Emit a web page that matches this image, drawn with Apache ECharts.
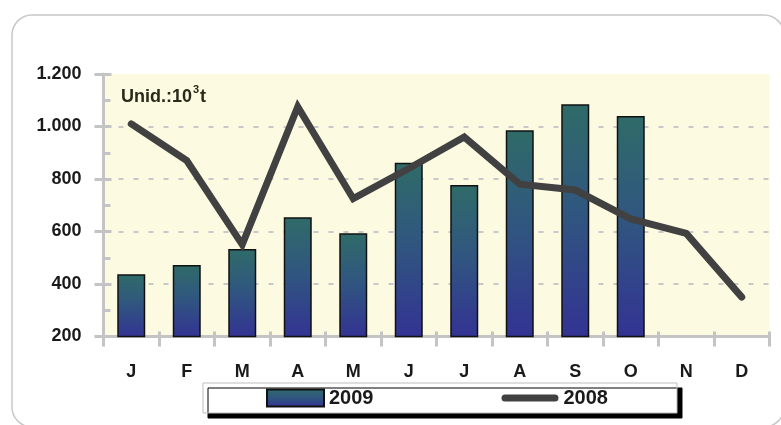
<!DOCTYPE html>
<html>
<head>
<meta charset="utf-8">
<script src="https://cdn.jsdelivr.net/npm/echarts@6/dist/echarts.min.js"></script>
<style>
html,body{margin:0;padding:0;background:#fff;}
#c{width:781px;height:425px;}
</style>
</head>
<body>
<div id="c"></div>
<script>
var months = ['J','F','M','A','M','J','J','A','S','O','N','D'];
var values2009 = [437, 472, 533, 654, 593, 862, 777, 986, 1085, 1040, null, null];
var values2008 = [1010, 870, 550, 1075, 725, 840, 960, 780, 758, 648, 593, 350];
var yTicks = [200, 400, 600, 800, 1000, 1200];

var chart = echarts.init(document.getElementById('c'));
var FONT = '"Liberation Sans", Arial, sans-serif';
var axisGray = '#c4c4c4';

function fmt(v){
  var s = String(v);
  return s.length > 3 ? s.slice(0, s.length-3) + '.' + s.slice(-3) : s;
}

var pillIcon = 'path://M0,0L0.01,0L0,0.01Z M57,17L56.99,17L57,16.99Z M3.5,5L53.5,5A3.5,3.5 0 0 1 53.5,12L3.5,12A3.5,3.5 0 0 1 3.5,5Z';

var option = {
  animation: false,
  graphic: [
    {type:'rect', left: 9.5, top: 12.5, shape:{width: 772, height: 412, r: 20},
     style:{fill:'none', stroke:'#c8c8c8', lineWidth:1.5}, z: 0},
    {type:'text', left: 121, top: 84, z: 100,
     style:{
       text: '{a|Unid.:10}{s|3}{a|t}',
       rich:{
         a:{fontFamily: FONT, fontWeight:'bold', fontSize:18, fill:'#2a2a1a', verticalAlign:'bottom', lineHeight:22},
         s:{fontFamily: FONT, fontWeight:'bold', fontSize:11, fill:'#2a2a1a', verticalAlign:'top', lineHeight:22, padding:[0,1,10,1]}
       }
     }}
  ],
  grid: {left: 103.5, right: 11.5, top: 74, bottom: 88.5, show: true, backgroundColor: '#fdfae2', borderWidth: 0},
  legend: {
    left: 203, top: 383,
    padding: [5, 69, 5, 63],
    itemGap: 128,
    itemWidth: 57, itemHeight: 17,
    backgroundColor: '#fff',
    borderColor: '#bdbdbd', borderWidth: 1,
    shadowColor: '#000', shadowBlur: 0, shadowOffsetX: 5, shadowOffsetY: 5,
    textStyle: {fontFamily: FONT, fontWeight:'bold', fontSize: 20, color:'#1a1a1a'},
    data: [
      {name:'2009', icon:'rect'},
      {name:'2008', icon: pillIcon, itemStyle:{color:'#414141', borderWidth:0}}
    ]
  },
  xAxis: [
    {type:'category', data: months, gridIndex:0,
     axisLine:{show:true, lineStyle:{color:axisGray, width:3}},
     axisTick:{show:true, alignWithLabel:false, length:10, lineStyle:{color:axisGray, width:3}},
     axisLabel:{margin: 27, fontFamily: FONT, fontWeight:'bold', fontSize:18, color:'#1a1a1a'}},
    {type:'category', data: months, position:'bottom', gridIndex:0,
     axisLine:{show:false},
     axisTick:{show:true, inside:true, length:5, lineStyle:{color:axisGray, width:3}},
     axisLabel:{show:false}}
  ],
  yAxis: [
    {type:'value', min: yTicks[0], max: yTicks[yTicks.length-1], interval: 200,
     axisLine:{show:true, lineStyle:{color:axisGray, width:3}},
     axisTick:{show:true, length:9, lineStyle:{color:axisGray, width:3}},
     axisLabel:{margin: 22, fontFamily: FONT, fontWeight:'bold', fontSize:18, color:'#1a1a1a', formatter: fmt},
     splitLine:{show:true, showMaxLine:false, showMinLine:false, lineStyle:{color:'#c8c8c8', width:2, type:[5,10]}}},
    {type:'value', min: yTicks[0], max: yTicks[yTicks.length-1], interval: 200, position:'left',
     axisLine:{show:false},
     axisTick:{show:true, inside:true, length:8, lineStyle:{color:axisGray, width:3}},
     minorTick:{show:true, splitNumber:2, length:7, lineStyle:{color:axisGray, width:3}},
     axisLabel:{show:false},
     splitLine:{show:false}}
  ],
  series: [
    {name:'2009', type:'bar', data: values2009, barWidth: 28, z: 2,
     itemStyle:{
       borderColor:'#111', borderWidth:1.5,
       color: new echarts.graphic.LinearGradient(0,0,0,1,[
         {offset:0, color:'#2f6b68'},
         {offset:0.45, color:'#30577f'},
         {offset:1, color:'#333393'}
       ])
     }},
    {name:'2008', type:'line', data: values2008, symbol:'none', showSymbol:false, z: 3,
     lineStyle:{color:'#414141', width:7, cap:'round', join:'miter'},
     itemStyle:{color:'#414141'}}
  ]
};
chart.setOption(option);
</script>
</body>
</html>
